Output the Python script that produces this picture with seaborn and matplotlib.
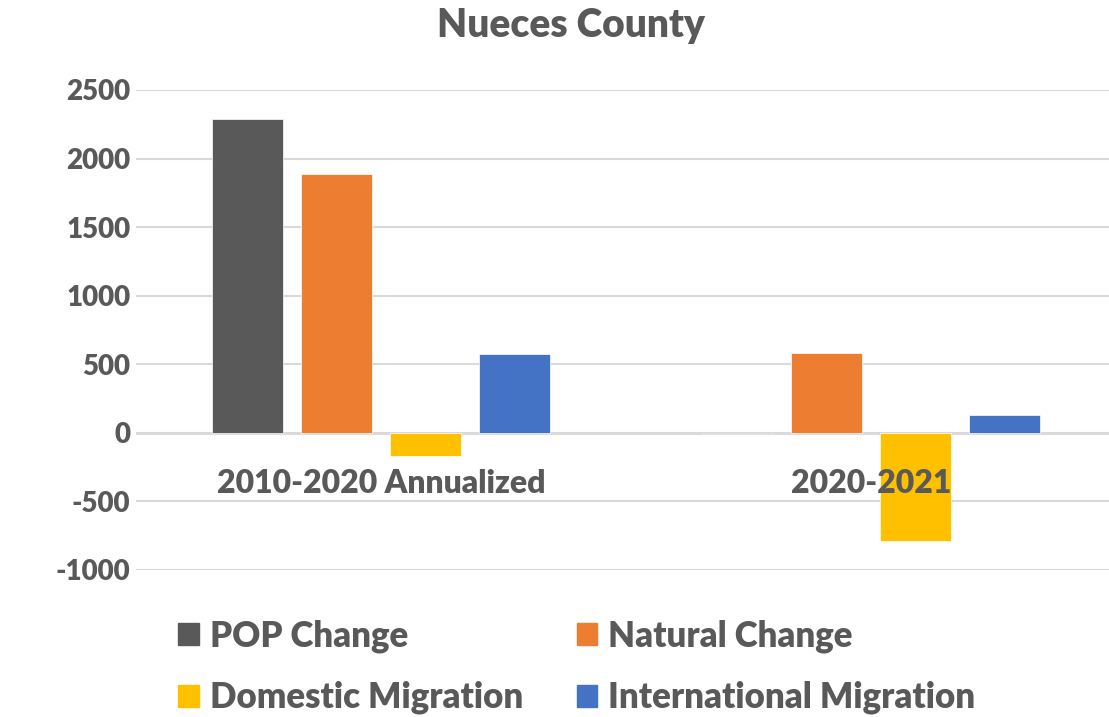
import pandas as pd
import numpy as np
import matplotlib.pyplot as plt
import seaborn as sns

# chart values
periods = ["2010-2020 Annualized", "2020-2021"]
series = ["POP Change", "Natural Change", "Domestic Migration", "International Migration"]
pop_change = [2290, -8]
natural_change = [1888, 583]
domestic_migration = [-168, -790]
international_migration = [576, 131]
colors = ["#595959", "#ED7D31", "#FFC000", "#4472C4"]
yticks = [-1000, -500, 0, 500, 1000, 1500, 2000, 2500]

values = [pop_change, natural_change, domestic_migration, international_migration]
df = pd.DataFrame({
    "period": periods * len(series),
    "series": np.repeat(series, len(periods)),
    "value": np.concatenate(values),
})

sns.set_theme(style="white")
plt.rcParams["font.family"] = ["Lato", "DejaVu Sans"]
text_color = "#595959"
weight = "heavy"

fig = plt.figure(figsize=(11.09, 7.17), dpi=100)
ax = fig.add_axes([136 / 1109, 147 / 717, 973 / 1109, 480 / 717])

sns.barplot(data=df, x="period", y="value", hue="series", hue_order=series,
            palette=colors, width=0.727, gap=0.21, ax=ax, legend=False,
            saturation=1, edgecolor="white", linewidth=0.5)

ax.set_ylim(-1000, 2500)
ax.set_xlim(-0.5, -0.5 + 973 / 490)
ax.set_yticks(yticks)
ax.set_yticklabels([str(t) for t in yticks], fontsize=20, fontweight=weight, color=text_color)
ax.tick_params(axis="y", length=0, pad=4)
ax.set_xticks([])
ax.set_xlabel("")
ax.set_ylabel("")
ax.yaxis.grid(True, color="#D9D9D9", linewidth=1.5)
ax.set_axisbelow(True)
for s in ax.spines.values():
    s.set_visible(False)
ax.axhline(0, color="#D9D9D9", linewidth=2, zorder=0.5)

# category labels sit just under the zero line, Excel style
for i, p in enumerate(periods):
    ax.annotate(p, xy=(i, 0), xytext=(0, -26), textcoords="offset points",
                ha="center", va="top", fontsize=23, fontweight=weight, color=text_color)

fig.text(571 / 1109, 1 - 25 / 717, "Nueces County", ha="center", va="center",
         fontsize=28, fontweight=weight, color=text_color)

# legend filled row by row: reorder for matplotlib's column-major layout
order = [0, 2, 1, 3]
handles = [plt.Rectangle((0, 0), 1, 1, color=colors[k]) for k in order]
labels = [series[k] for k in order]
fig.legend(handles, labels, loc="center left", bbox_to_anchor=(147 / 1109, 1 - 667 / 717),
           ncol=2, frameon=False, handlelength=0.6, handleheight=0.6,
           handletextpad=0.3, columnspacing=1.55, labelspacing=0.8,
           prop={"weight": weight, "size": 25}, labelcolor=text_color)

fig.savefig("out.png", dpi=100)
